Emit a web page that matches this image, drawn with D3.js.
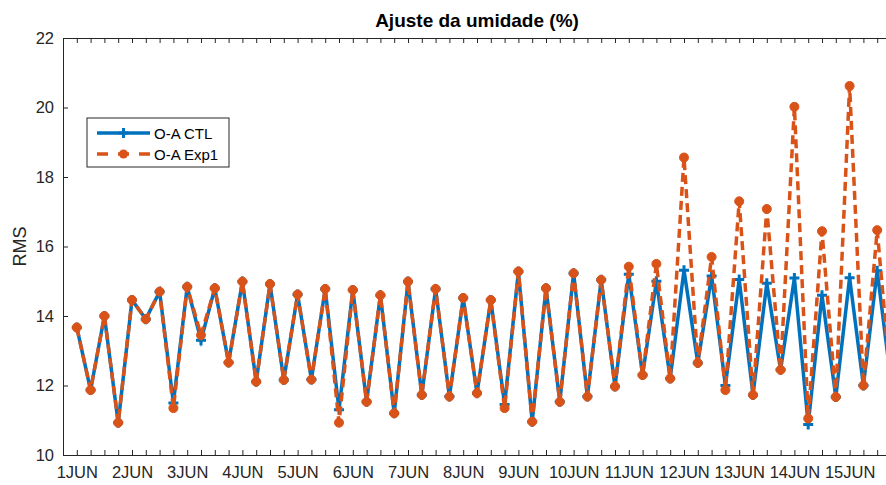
<!DOCTYPE html>
<html>
<head>
<meta charset="utf-8">
<script src="https://cdn.jsdelivr.net/npm/d3@7"></script>
<style>
  body { margin: 0; background: #fff; }
  svg { display: block; font-family: "Liberation Sans", Arial, sans-serif; }
</style>
</head>
<body>
<svg id="chart" width="886" height="485"></svg>
<script>
// 6-hourly analyses, index 0 = 1JUN 00Z
const dayLabels = ['1JUN','2JUN','3JUN','4JUN','5JUN','6JUN','7JUN','8JUN','9JUN','10JUN','11JUN','12JUN','13JUN','14JUN','15JUN'];
const yTicks = [10, 12, 14, 16, 18, 20, 22];

const ctl = [13.67, 11.87, 14.0, 10.93, 14.46, 13.91, 14.7, 11.5, 14.84, 13.3,
             14.8, 12.66, 14.99, 12.11, 14.92, 12.16, 14.62, 12.17, 14.78, 11.3,
             14.75, 11.53, 14.6, 11.2, 14.99, 11.73, 14.78, 11.68, 14.52, 11.78,
             14.46, 11.45, 15.28, 10.96, 14.8, 11.53, 15.23, 11.68, 15.04, 11.97,
             15.2, 12.3, 15.0, 12.2, 15.32, 12.65, 15.15, 12.0, 15.05, 11.73,
             14.94, 12.45, 15.09, 10.88, 14.6, 11.67, 15.1, 12.0, 15.3, 12.1];
const exp1 = [13.67, 11.87, 14.0, 10.93, 14.46, 13.91, 14.7, 11.35, 14.84, 13.45,
              14.8, 12.66, 14.99, 12.11, 14.92, 12.16, 14.62, 12.17, 14.78, 10.93,
              14.75, 11.53, 14.6, 11.2, 14.99, 11.73, 14.78, 11.68, 14.52, 11.78,
              14.46, 11.35, 15.28, 10.96, 14.8, 11.53, 15.23, 11.68, 15.04, 11.97,
              15.42, 12.3, 15.5, 12.2, 18.56, 12.65, 15.7, 11.87, 17.3, 11.73,
              17.08, 12.45, 20.02, 11.05, 16.44, 11.67, 20.62, 12.0, 16.47, 12.0];

const blue = '#0072BD';
const orange = '#D95319';
const axisCol = '#262626';

const mLeft = 63, mRight = 891, mTop = 38, mBottom = 455;

const svg = d3.select('#chart');

const x = d3.scaleLinear().domain([-1, 59]).range([mLeft, mRight]);
const y = d3.scaleLinear().domain([10, 22]).range([mBottom, mTop]);

const xTickVals = d3.range(-1, 60);

// axes (MATLAB box style, ticks inward)
const gB = svg.append('g')
  .attr('transform', 'translate(0,' + mBottom + ')')
  .call(d3.axisBottom(x).tickValues(xTickVals).tickSize(-5).tickSizeOuter(0).tickPadding(11)
    .tickFormat(d => (d >= 0 && d % 4 === 0) ? dayLabels[d / 4] : ''));
const gT = svg.append('g')
  .attr('transform', 'translate(0,' + mTop + ')')
  .call(d3.axisTop(x).tickValues(xTickVals).tickSize(-5).tickSizeOuter(0).tickFormat(''));
const gL = svg.append('g')
  .attr('transform', 'translate(' + mLeft + ',0)')
  .call(d3.axisLeft(y).tickValues(yTicks).tickSize(-5).tickSizeOuter(0).tickPadding(9));
const gR = svg.append('g')
  .attr('transform', 'translate(' + mRight + ',0)')
  .call(d3.axisRight(y).tickValues(yTicks).tickSize(-5).tickSizeOuter(0).tickFormat(''));

[gB, gT, gL, gR].forEach(g => {
  g.selectAll('path, line').attr('stroke', axisCol).attr('stroke-width', 1);
  g.selectAll('text').attr('fill', axisCol).style('font-size', '16.5px')
    .style('font-family', '"Liberation Sans", Arial, sans-serif');
});

// title and y label
svg.append('text')
  .attr('x', (mLeft + mRight) / 2).attr('y', 27)
  .attr('text-anchor', 'middle')
  .style('font-size', '19px').style('font-weight', 'bold')
  .attr('fill', '#000')
  .text('Ajuste da umidade (%)');

svg.append('text')
  .attr('transform', 'translate(26,' + (mTop + mBottom) / 2 + ') rotate(-90)')
  .attr('text-anchor', 'middle')
  .style('font-size', '18px')
  .attr('fill', axisCol)
  .text('RMS');

const line = d3.line().x((d, i) => x(i)).y(d => y(d));

// CTL
svg.append('path')
  .datum(ctl)
  .attr('fill', 'none')
  .attr('stroke', blue)
  .attr('stroke-width', 3.5)
  .attr('d', line);

svg.append('g').selectAll('path')
  .data(ctl)
  .join('path')
  .attr('d', (d, i) => {
    const cx = x(i), cy = y(d);
    return 'M' + (cx - 5) + ',' + cy + 'H' + (cx + 5) + 'M' + cx + ',' + (cy - 5) + 'V' + (cy + 5);
  })
  .attr('stroke', blue)
  .attr('stroke-width', 3);

// Exp1
svg.append('path')
  .datum(exp1)
  .attr('fill', 'none')
  .attr('stroke', orange)
  .attr('stroke-width', 3.5)
  .attr('stroke-dasharray', '9,5')
  .attr('d', line);

svg.append('g').selectAll('circle')
  .data(exp1)
  .join('circle')
  .attr('cx', (d, i) => x(i))
  .attr('cy', d => y(d))
  .attr('r', 4.5)
  .attr('fill', orange)
  .attr('stroke', orange)
  .attr('stroke-width', 1);

// legend
const lg = svg.append('g').attr('transform', 'translate(87,118)');
lg.append('rect')
  .attr('width', 142).attr('height', 49)
  .attr('fill', '#fff').attr('stroke', axisCol).attr('stroke-width', 1);

lg.append('line')
  .attr('x1', 10).attr('x2', 63).attr('y1', 15).attr('y2', 15)
  .attr('stroke', blue).attr('stroke-width', 3.5);
lg.append('path')
  .attr('d', 'M31.5,15H41.5M36.5,10V20')
  .attr('stroke', blue).attr('stroke-width', 3);
lg.append('text')
  .attr('x', 67).attr('y', 20.5)
  .style('font-size', '15px').attr('fill', '#000')
  .text('O-A CTL');

lg.append('line')
  .attr('x1', 10).attr('x2', 63).attr('y1', 36).attr('y2', 36)
  .attr('stroke', orange).attr('stroke-width', 3.5)
  .attr('stroke-dasharray', '11,10');
lg.append('circle')
  .attr('cx', 36.5).attr('cy', 36).attr('r', 4.5).attr('fill', orange);
lg.append('text')
  .attr('x', 67).attr('y', 41.5)
  .style('font-size', '15px').attr('fill', '#000')
  .text('O-A Exp1');
</script>
</body>
</html>
